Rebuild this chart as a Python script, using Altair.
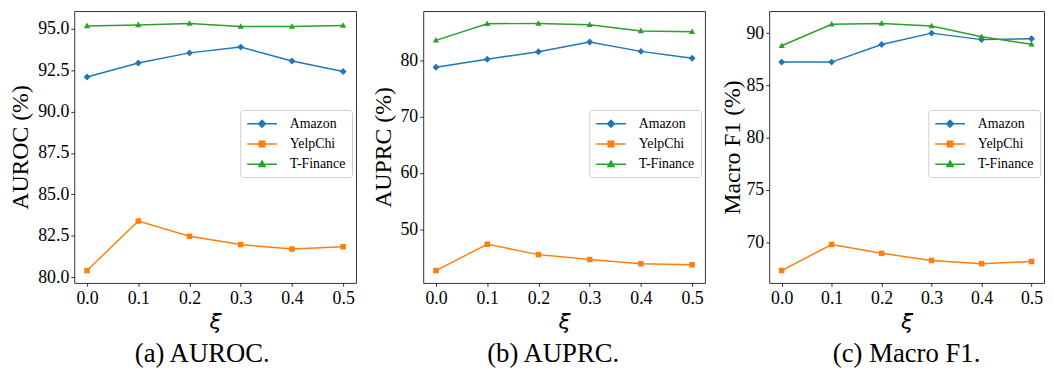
import altair as alt
import pandas as pd

xi = [0.0, 0.1, 0.2, 0.3, 0.4, 0.5]
series = ["Amazon", "YelpChi", "T-Finance"]
colors = ["#1f77b4", "#ff7f0e", "#2ca02c"]

auroc_amazon = [92.09, 92.94, 93.55, 93.90, 93.06, 92.43]
auroc_yelp = [80.40, 83.39, 82.47, 81.97, 81.70, 81.84]
auroc_tfin = [95.18, 95.24, 95.33, 95.14, 95.14, 95.20]

auprc_amazon = [78.79, 80.23, 81.56, 83.29, 81.62, 80.40]
auprc_yelp = [42.66, 47.34, 45.49, 44.62, 43.87, 43.70]
auprc_tfin = [83.58, 86.53, 86.59, 86.36, 85.26, 85.09]

f1_amazon = [87.23, 87.23, 88.91, 90.00, 89.38, 89.47]
f1_yelp = [67.29, 69.78, 68.94, 68.26, 67.95, 68.16]
f1_tfin = [88.79, 90.84, 90.93, 90.68, 89.66, 88.94]

auroc_ticks = [80.0, 82.5, 85.0, 87.5, 90.0, 92.5, 95.0]
auprc_ticks = [50, 60, 70, 80]
f1_ticks = [70, 75, 80, 85, 90]

marker_paths = [
    "M-1,0L0,-1L1,0L0,1Z",
    "M-0.8,-0.8H0.8V0.8H-0.8Z",
    "M0,-0.95L0.9,0.65H-0.9Z",
]
# legend handles: a line segment from the symbol's left edge with the marker at its middle
legend_paths = [
    "M-1,0H3.29M0.64,0L1.14,-0.5L1.64,0L1.14,0.5Z",
    "M-1,0H3.29M0.74,-0.4H1.54V0.4H0.74Z",
    "M-1,0H3.29M1.14,-0.47L1.59,0.33H0.69Z",
]

SERIF = "Liberation Serif"


def make_panel(vals, ytitle, caption, ticks, fmt, dx, width, title_pad):
    rows = []
    for s, v in zip(series, vals):
        for x, y in zip(xi, v):
            rows.append({"xi": x, "series": s, "value": y})
    df = pd.DataFrame(rows)
    allv = [y for v in vals for y in v]
    lo, hi = min(allv), max(allv)
    m = 0.05 * (hi - lo)
    base = alt.Chart(df)
    xenc = alt.X(
        "xi:Q",
        scale=alt.Scale(domain=[-0.025, 0.525], nice=False, zero=False),
        axis=alt.Axis(values=xi, format=".1f", title="ξ", titleFont="DejaVu Sans",
                      titleFontStyle="italic", titleFontSize=22, titlePadding=4,
                      labelPadding=3.5),
    )
    yenc = alt.Y(
        "value:Q",
        scale=alt.Scale(domain=[lo - m, hi + m], nice=False, zero=False),
        axis=alt.Axis(values=ticks, format=fmt, title=ytitle, titleFont=SERIF,
                      titleFontSize=24, titlePadding=title_pad, labelPadding=2),
    )
    cenc = alt.Color("series:N", scale=alt.Scale(domain=series, range=colors), legend=None)
    lines = base.mark_line(strokeWidth=1.5, opacity=1).encode(x=xenc, y=yenc, color=cenc)
    pts = base.mark_point(filled=True, size=49, opacity=1).encode(
        x=xenc, y=yenc, color=cenc,
        shape=alt.Shape("series:N", scale=alt.Scale(domain=series, range=marker_paths), legend=None),
    )
    leg = alt.Legend(
        title=None, orient="none", legendX=width - 117, legendY=100,
        fillColor="white", strokeColor="#cccccc", cornerRadius=3, padding=6,
        labelFont=SERIF, labelFontSize=14, labelColor="black", labelOffset=28,
        symbolSize=196, symbolStrokeWidth=1.5, symbolOpacity=1, rowPadding=5.5,
    )
    legend_layer = base.transform_filter("false").mark_point(filled=True, size=196, opacity=1).encode(
        fill=alt.Fill("series:N", scale=alt.Scale(domain=series, range=colors), legend=leg),
        stroke=alt.Stroke("series:N", scale=alt.Scale(domain=series, range=colors), legend=leg),
        shape=alt.Shape("series:N", scale=alt.Scale(domain=series, range=legend_paths), legend=leg),
    )
    return alt.layer(lines, pts, legend_layer).resolve_scale(
        shape="independent", fill="independent", stroke="independent"
    ).properties(
        width=width, height=275,
        title=alt.TitleParams(caption, orient="bottom", font=SERIF, fontSize=27,
                              fontWeight="normal", color="black", offset=9, dx=dx,
                              anchor="middle", frame="group"),
    )


p1 = make_panel([auroc_amazon, auroc_yelp, auroc_tfin], "AUROC (%)", "(a) AUROC.",
                auroc_ticks, ".1f", -13, 285, 5)
p2 = make_panel([auprc_amazon, auprc_yelp, auprc_tfin], "AUPRC (%)", "(b) AUPRC.",
                auprc_ticks, "d", -11, 285, 5)
p3 = make_panel([f1_amazon, f1_yelp, f1_tfin], "Macro F1 (%)", "(c) Macro F1.",
                f1_ticks, "d", 0, 278, 2)

chart = alt.hconcat(p1, p2, p3, spacing=14).resolve_scale(
    color="independent", shape="independent", fill="independent", stroke="independent"
).properties(padding=0).configure_view(stroke="#333333", strokeWidth=1).configure_axis(
    grid=False, domain=False, ticks=True, tickSize=3.5, tickWidth=0.8, tickColor="black",
    labelFont=SERIF, labelFontSize=18, labelColor="black", titleColor="black",
    titleFontWeight="normal",
)

chart.save("out.html", embed_options={"renderer": "svg", "actions": False})
